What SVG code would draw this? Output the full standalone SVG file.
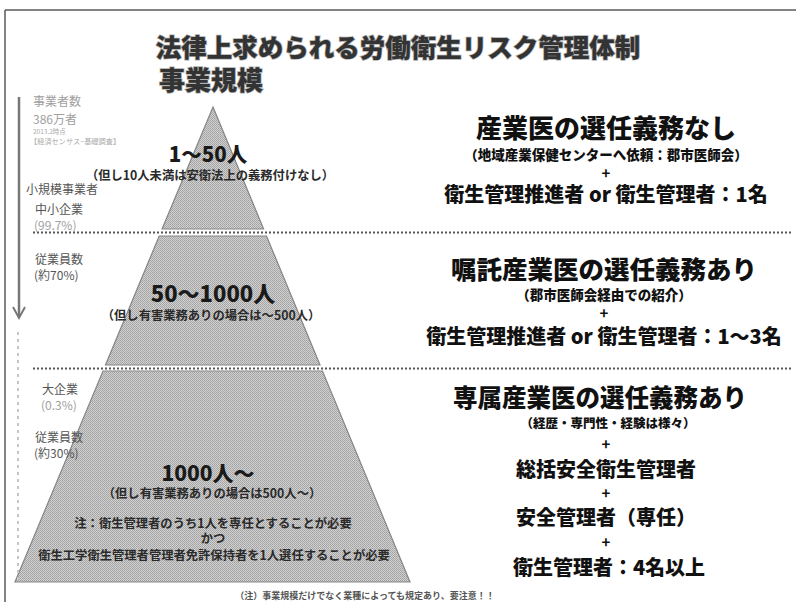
<svg xmlns="http://www.w3.org/2000/svg" width="796" height="602" viewBox="0 0 796 602">
<defs>
<pattern id="ht" width="2" height="2" patternUnits="userSpaceOnUse">
<rect width="2" height="2" fill="#d2d2d2"/>
<rect width="1" height="1" fill="#a0a0a0"/>
<rect x="1" y="1" width="1" height="1" fill="#a8a8a8"/>
</pattern>
<style>
text{font-family:"Noto Sans CJK JP","Noto Sans CJK SC",sans-serif;}
.pyr{fill:url(#ht);stroke:#858585;stroke-width:1.2;}
.b{font-weight:900;fill:#111;text-anchor:middle;}
.p{font-weight:700;fill:#111;text-anchor:middle;font-size:15px;}
.pb{font-weight:900;fill:#1a1a1a;text-anchor:middle;}
.pn{font-weight:700;fill:#2a2a2a;text-anchor:middle;font-size:12.3px;}
.lt{font-size:12px;fill:#555;}
.lg{font-size:12px;fill:#a0a0a0;}
.dot{stroke:#555;stroke-width:2;stroke-dasharray:2 2;fill:none;}
</style>
</defs>
<rect width="796" height="602" fill="#fff"/>
<g id="frame" fill="none" stroke="#5a5a5a" stroke-width="1.5">
<line x1="5" y1="10" x2="796" y2="10"/>
<line x1="5" y1="10" x2="5" y2="602"/>
</g>
<g id="title">
<text x="398" y="57" font-size="25.5" font-weight="900" fill="#333" stroke="#b0b0b0" stroke-width="1.5" paint-order="stroke" text-anchor="middle">法律上求められる労働衛生リスク管理体制</text>
</g>
<g id="scale-label">
<text x="211" y="90" font-size="26" font-weight="900" fill="#333" stroke="#b0b0b0" stroke-width="1.5" paint-order="stroke" text-anchor="middle">事業規模</text>
</g>
<g id="pyramid">
<polygon id="tier1" class="pyr" points="213,107 263.6,229 162.1,229"/>
<polygon id="tier2" class="pyr" points="159.2,236 266.5,236 320,365 105.5,365"/>
<polygon id="tier3" class="pyr" points="103,371 322.5,371 410,582 15,582"/>
</g>
<g id="connectors">
<line class="dot" x1="33" y1="232.5" x2="792" y2="232.5"/>
<line class="dot" x1="33" y1="368.5" x2="792" y2="368.5"/>
<line x1="19" y1="97" x2="19" y2="317" stroke="#777" stroke-width="2.5"/>
<polyline points="13,307 19,318 25,307" fill="none" stroke="#777" stroke-width="2"/>
<line x1="18" y1="332" x2="18" y2="584" stroke="#c4c4c4" stroke-width="2" stroke-dasharray="3 4"/>
</g>
<g id="left-labels">
<text class="lg" x="33" y="106" font-size="12.5">事業者数</text>
<text class="lg" x="33" y="124" font-size="12.5">386万者</text>
<text x="33" y="134" font-size="6.5" fill="#aaa">2013.2時点</text>
<text x="30" y="144" font-size="7.2" fill="#aaa">【経済センサス−基礎調査】</text>
<text class="lt" x="26" y="194">小規模事業者</text>
<text class="lt" x="35" y="214">中小企業</text>
<text class="lg" x="34" y="230" font-size="11">(99.7%)</text>
<text class="lt" x="35" y="264">従業員数</text>
<text class="lt" x="34" y="280" font-size="11.5">(約70%)</text>
<text class="lt" x="42" y="394">大企業</text>
<text class="lg" x="41" y="410" font-size="11">(0.3%)</text>
<text class="lt" x="35" y="442">従業員数</text>
<text class="lt" x="34" y="458" font-size="11.5">(約30%)</text>
</g>
<g id="tier1-text">
<text class="pb" x="208" y="162" font-size="20.5">1～50人</text>
<text class="pn" x="210" y="180">（但し10人未満は安衛法上の義務付けなし）</text>
</g>
<g id="tier2-text">
<text class="pb" x="213" y="302" font-size="22">50～1000人</text>
<text class="pn" x="211" y="320">（但し有害業務ありの場合は～500人）</text>
</g>
<g id="tier3-text">
<text class="pb" x="208" y="481" font-size="21">1000人～</text>
<text class="pn" x="212" y="498">（但し有害業務ありの場合は500人～）</text>
<text class="pn" x="213" y="528">注：衛生管理者のうち1人を専任とすることが必要</text>
<text class="pn" x="213" y="543">かつ</text>
<text class="pn" x="214" y="560">衛生工学衛生管理者管理者免許保持者を1人選任することが必要</text>
</g>
<g id="req1">
<text class="b" x="606" y="138" font-size="26">産業医の選任義務なし</text>
<text class="b" x="606" y="160" font-size="13.5">（地域産業保健センターへ依頼：郡市医師会）</text>
<text class="p" x="606" y="179">+</text>
<text class="b" x="606" y="202" font-size="20">衛生管理推進者 or 衛生管理者：1名</text>
</g>
<g id="req2">
<text class="b" x="604" y="279" font-size="25.5">嘱託産業医の選任義務あり</text>
<text class="b" x="604" y="300" font-size="13.5">（郡市医師会経由での紹介）</text>
<text class="p" x="604" y="319">+</text>
<text class="b" x="604" y="344" font-size="20">衛生管理推進者 or 衛生管理者：1～3名</text>
</g>
<g id="req3">
<text class="b" x="600" y="407" font-size="24.5">専属産業医の選任義務あり</text>
<text class="b" x="608" y="428" font-size="12.5">（経歴・専門性・経験は様々）</text>
<text class="p" x="606" y="450">+</text>
<text class="b" x="606" y="477" font-size="20">総括安全衛生管理者</text>
<text class="p" x="606" y="499">+</text>
<text class="b" x="606" y="525" font-size="20">安全管理者（専任）</text>
<text class="p" x="606" y="548">+</text>
<text class="b" x="609" y="575" font-size="20">衛生管理者：4名以上</text>
</g>
<g id="footnote">
<text x="365" y="599" font-size="9" font-weight="700" fill="#555" text-anchor="middle">（注）事業規模だけでなく業種によっても規定あり、要注意！！</text>
</g>
</svg>
